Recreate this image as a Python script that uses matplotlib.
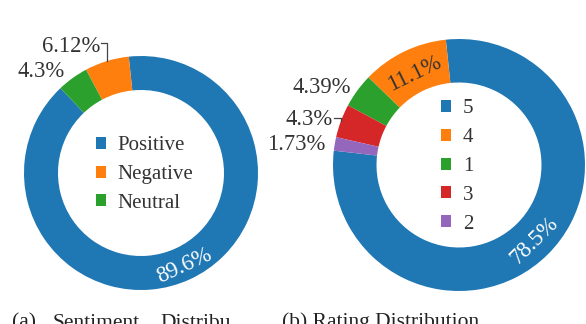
import matplotlib
matplotlib.use('Agg')
import matplotlib.pyplot as plt
from matplotlib.lines import Line2D
import numpy as np

# ---- data ----
sent_labels = ['Positive', 'Negative', 'Neutral']
sent_values = [89.6, 6.12, 4.3]
sent_text = ['89.6%', '6.12%', '4.3%']
rating_labels = ['5', '4', '1', '3', '2']
rating_values = [78.5, 11.1, 4.39, 4.3, 1.73]
rating_text = ['78.5%', '11.1%', '4.39%', '4.3%', '1.73%']
sent_colors = ['#1f77b4', '#ff7f0e', '#2ca02c']
rating_colors = ['#1f77b4', '#ff7f0e', '#2ca02c', '#d62728', '#9467bd']

W, H = 586, 324
plt.rcParams['font.family'] = ['Liberation Serif', 'DejaVu Serif']
fig = plt.figure(figsize=(W / 100, H / 100), dpi=100)

TXT = '#333333'
LBL_FS = 16.3
LEG_FS = 15


def fx(x):
    return x / W


def fy(y):
    return 1 - y / H


def donut(cx, cy, R, inner, values, colors):
    ax = fig.add_axes([(cx - R) / W, (H - cy - R) / H, 2 * R / W, 2 * R / H])
    frac = np.array(values) / np.sum(values)
    start = 96 - 360 * frac[0]
    wedges, _ = ax.pie(values, colors=colors, startangle=start, counterclock=True,
                       radius=1, wedgeprops=dict(width=1 - inner / R, linewidth=0))
    ax.set_xlim(-1, 1)
    ax.set_ylim(-1, 1)
    ax.set_aspect('equal')
    ax.axis('off')
    return ax, wedges


def inside_label(ax, wedge, text, color, rin):
    mid = np.deg2rad((wedge.theta1 + wedge.theta2) / 2)
    r = (1 + rin) / 2
    rot = np.rad2deg(mid) - 90
    rot = (rot + 180) % 360 - 180
    if rot > 90:
        rot -= 180
    if rot < -90:
        rot += 180
    ax.text(r * np.cos(mid), r * np.sin(mid), text, color=color, fontsize=LBL_FS,
            ha='center', va='center_baseline', rotation=rot, rotation_mode='anchor')


def leader(cx, cy, R, wedge, x0, y0):
    mid = np.deg2rad((wedge.theta1 + wedge.theta2) / 2)
    ex = cx + R * np.cos(mid)
    ey = cy - R * np.sin(mid)
    fig.add_artist(Line2D([fx(x0), fx(ex), fx(ex)], [fy(y0), fy(y0), fy(ey)],
                          color='#444444', lw=0.9, transform=fig.transFigure))


# ---- left donut ----
lcx, lcy, lR, lr = 141, 173, 117, 83
axl, wl = donut(lcx, lcy, lR, lr, sent_values, sent_colors)
inside_label(axl, wl[0], sent_text[0], 'white', lr / lR)
fig.text(fx(100), fy(52), sent_text[1], ha='right', va='baseline', fontsize=LBL_FS, color=TXT)
fig.text(fx(65), fy(77), sent_text[2], ha='right', va='baseline', fontsize=LBL_FS, color=TXT)
leader(lcx, lcy, lR, wl[1], 101, 43)
axl.legend(wl, sent_labels, loc='center left', bbox_to_anchor=(fx(96), fy(174.5)),
           bbox_transform=fig.transFigure, frameon=False, fontsize=LEG_FS,
           handlelength=0.5, handleheight=0.5, handletextpad=0.55, labelspacing=0.47,
           borderpad=0, borderaxespad=0, labelcolor=TXT)

# ---- right donut ----
rcx, rcy, rR, rr = 459, 165, 126, 82.5
axr, wr = donut(rcx, rcy, rR, rr, rating_values, rating_colors)
inside_label(axr, wr[0], rating_text[0], 'white', rr / rR)
inside_label(axr, wr[1], rating_text[1], TXT, rr / rR)
fig.text(fx(351), fy(93), rating_text[2], ha='right', va='baseline', fontsize=LBL_FS, color=TXT)
fig.text(fx(333), fy(125), rating_text[3], ha='right', va='baseline', fontsize=LBL_FS, color=TXT)
fig.text(fx(325), fy(150), rating_text[4], ha='right', va='baseline', fontsize=LBL_FS, color=TXT)
leader(rcx, rcy, rR, wr[3], 334, 118)
axr.legend(wr, rating_labels, loc='center left', bbox_to_anchor=(fx(441), fy(166.5)),
           bbox_transform=fig.transFigure, frameon=False, fontsize=LEG_FS,
           handlelength=0.5, handleheight=0.5, handletextpad=0.55, labelspacing=0.47,
           borderpad=0, borderaxespad=0, labelcolor=TXT)

# ---- captions (cut off at the bottom, as in the reference) ----
cap_y = fy(327.5)
CAP_FS = 15.5
fig.text(fx(12), cap_y, '(a)', fontsize=CAP_FS, va='baseline', ha='left', color='#222222')
fig.text(fx(53), cap_y, 'Sentiment', fontsize=CAP_FS, va='baseline', ha='left', color='#222222')
fig.text(fx(160), cap_y, 'Distribu', fontsize=CAP_FS, va='baseline', ha='left', color='#222222')
fig.text(fx(282), cap_y, '(b) Rating Distribution', fontsize=CAP_FS, va='baseline', ha='left',
         color='#222222')

fig.savefig('out.png', dpi=100)
